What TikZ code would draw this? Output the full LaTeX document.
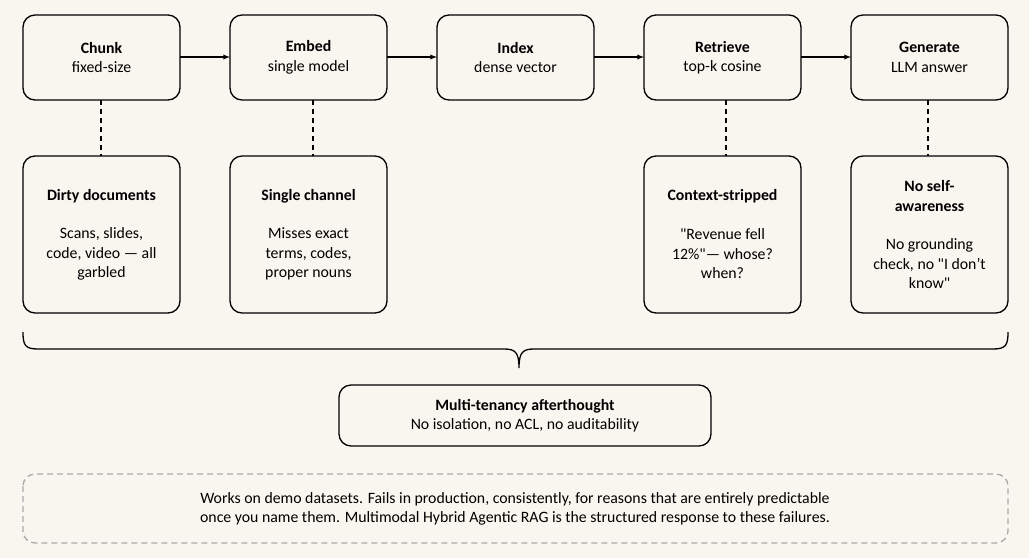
\documentclass[tikz,border=0pt]{standalone}
\usepackage{fontspec}
\setmainfont{Carlito}
\begin{document}
\begin{tikzpicture}[x=1pt,y=-1pt,
 box/.style={draw,line width=1.3pt,rounded corners=12pt,fill=none},
 lbl/.style={align=center,font=\fontsize{15.8}{19.5}\selectfont},
 conn/.style={line width=1.3pt,-latex},
 dsh/.style={line width=1.3pt,dash pattern=on 5pt off 4pt}]
\fill[color={rgb,255:red,249;green,245;blue,239}] (0,0) rectangle (1029,558);
\useasboundingbox (0,0) rectangle (1029,558);
\foreach \n/\x/\t/\s in {c/23/Chunk/fixed-size, e/230/Embed/single model, i/437/Index/dense vector, r/644/Retrieve/top-k cosine, g/851/Generate/LLM answer}{
 \draw[box] (\x,15) rectangle (\x+157,100);
 \node[lbl] (\n) at (\x+78.5,57.5) {\textbf{\t}\\\s};
}
\foreach \a/\b/\xa/\xb in {c/e/180/230,e/i/387/437,i/r/594/644,r/g/801/851}{
 \coordinate (\a o) at (\xa,57); \coordinate (\b i) at (\xb,57);
 \draw[conn] (\a o) -- (\b i);
}
\foreach \n/\x/\t/\s in {dc/23/Dirty documents/{Scans, slides,\\code, video — all\\garbled}, sc/230/Single channel/{Misses exact\\terms, codes,\\proper nouns}, cs/644/Context-stripped/{\textquotedbl Revenue fell\\12\%\textquotedbl— whose?\\when?}}{
 \draw[box] (\x,156) rectangle (\x+157,313);
 \node[lbl] (\n t) at (\x+78.5,196) {\textbf{\t}};
 \node[lbl] (\n) at (\x+78.5,254) {\s};
}
\draw[box] (851,156) rectangle (1008,313);
\node[lbl] (nst) at (929.5,196) {\textbf{No self-}\\\textbf{awareness}};
\node[lbl] (ns) at (929.5,264) {No grounding\\check, no \textquotedbl I don't\\know\textquotedbl};
\coordinate (d1a) at (101,100); \coordinate (d1b) at (101,156);
\coordinate (d2a) at (313,100); \coordinate (d2b) at (313,156);
\coordinate (d3a) at (726,100); \coordinate (d3b) at (726,156);
\coordinate (d4a) at (928,100); \coordinate (d4b) at (928,156);
\foreach \k in {1,2,3,4}{\draw[dsh] (d\k a) -- (d\k b);}
\draw[line width=1.3pt] (23,332) .. controls (23,345) and (25,349) .. (38,349) -- (504,349) .. controls (515,349) and (519,352) .. (519,368)
 .. controls (519,352) and (523,349) .. (534,349) -- (993,349) .. controls (1006,349) and (1008,345) .. (1008,332);
\draw[box] (339,385) rectangle (711,446);
\node[lbl] (mt) at (525,415.5) {\textbf{Multi-tenancy afterthought}\\No isolation, no ACL, no auditability};
\draw[line width=1.3pt,draw={rgb,255:red,170;green,170;blue,170},dash pattern=on 6pt off 4pt,rounded corners=12pt] (23,474) rectangle (1008,543);
\node[lbl] (ft) at (515,509) {Works on demo datasets. Fails in production, consistently, for reasons that are entirely predictable\\once you name them. Multimodal Hybrid Agentic RAG is the structured response to these failures.};
\end{tikzpicture}
\end{document}
